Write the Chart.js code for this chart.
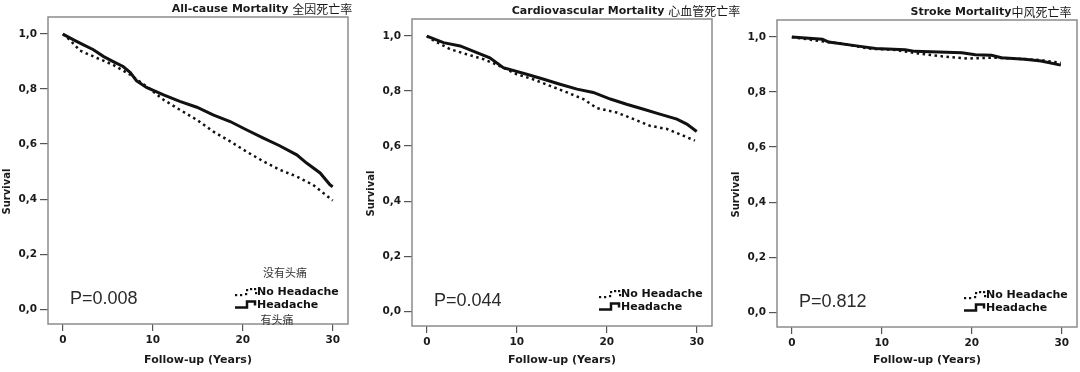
<!DOCTYPE html>
<html>
<head>
<meta charset="utf-8">
<script src="https://cdn.jsdelivr.net/npm/chart.js@4/dist/chart.umd.min.js"></script>
<style>
  body { margin: 0; background: #fff; }
  #wrap { position: relative; width: 1080px; height: 372px; }
  canvas { position: absolute; left: 0; top: 0; }
</style>
</head>
<body>
<div id="wrap">
  <canvas id="allcause" width="1080" height="372"></canvas>
  <canvas id="cardio" width="1080" height="372"></canvas>
  <canvas id="stroke" width="1080" height="372"></canvas>
</div>
<script>
// tick labels
var xTicks = [0, 10, 20, 30];
var yTicks = [0, 0.2, 0.4, 0.6, 0.8, 1.0];

// All-cause mortality (years, survival)
var allHeadT = [0, 1.2, 2.3, 3.4, 4.5, 5.6, 6.7, 7.5, 8.2, 9.3, 11.2, 13.0, 14.9, 16.7, 18.6, 20.4, 22.3, 24.1, 26.0, 27.1, 28.6, 29.7, 30];
var allHeadS = [1.0, 0.979, 0.961, 0.943, 0.919, 0.900, 0.882, 0.860, 0.830, 0.806, 0.779, 0.755, 0.734, 0.706, 0.682, 0.652, 0.622, 0.594, 0.561, 0.531, 0.495, 0.452, 0.445];
var allNoHeadT = [0, 0.8, 1.9, 3.8, 5.6, 7.5, 9.3, 11.2, 13.0, 14.9, 16.7, 18.6, 20.4, 22.3, 24.1, 26.0, 27.8, 30];
var allNoHeadS = [1.0, 0.978, 0.940, 0.913, 0.888, 0.852, 0.810, 0.761, 0.725, 0.688, 0.646, 0.610, 0.573, 0.537, 0.507, 0.482, 0.452, 0.395];

// Cardiovascular mortality
var cvHeadT = [0, 1.85, 3.7, 5.56, 7.0, 8.5, 11.1, 13.0, 14.8, 16.7, 18.5, 20.4, 22.2, 24.1, 25.9, 27.8, 28.9, 30];
var cvHeadS = [1.0, 0.976, 0.964, 0.940, 0.921, 0.885, 0.861, 0.843, 0.825, 0.807, 0.795, 0.771, 0.752, 0.734, 0.716, 0.698, 0.680, 0.653];
var cvNoHeadT = [0, 0.4, 2.6, 4.4, 6.3, 8.1, 10, 11.8, 13.7, 15.6, 17.4, 18.9, 21.1, 23, 24.8, 26.7, 28.5, 29.8];
var cvNoHeadS = [1.0, 0.99, 0.952, 0.934, 0.916, 0.891, 0.861, 0.843, 0.819, 0.795, 0.771, 0.738, 0.722, 0.698, 0.674, 0.662, 0.638, 0.620];

// Stroke mortality
var stHeadT = [0, 3.4, 4.1, 7.4, 9.3, 12.6, 13.7, 18.9, 20.4, 22.2, 23.3, 25.9, 27.7, 29.9];
var stHeadS = [1.0, 0.992, 0.982, 0.967, 0.958, 0.954, 0.948, 0.943, 0.936, 0.934, 0.925, 0.919, 0.913, 0.898];
var stNoHeadT = [0, 3.0, 5.6, 8.6, 11.2, 14.1, 16.7, 19.6, 22.2, 24.8, 27.7, 29.9];
var stNoHeadS = [1.0, 0.986, 0.976, 0.958, 0.954, 0.940, 0.930, 0.922, 0.925, 0.922, 0.916, 0.906];

var boldFont = 'DejaVu Sans';
var cjkFont = '"Noto Sans CJK SC"';

function pts(t, s) {
    var out = [];
    for (var k = 0; k < t.length; k++) out.push({x: t[k], y: s[k]});
    return out;
}

// frame, titles, P value and legend drawn round the chart area
var panelText = {
    id: 'panelText',
    beforeDatasetsDraw: function(chart) {
        var a = chart.chartArea, ctx = chart.ctx;
        ctx.save();
        ctx.strokeStyle = '#8c8c8c';
        ctx.lineWidth = 1.5;
        ctx.strokeRect(a.left, a.top, a.right - a.left, a.bottom - a.top);
        ctx.restore();
    },
    afterDraw: function(chart, args, o) {
        var a = chart.chartArea, ctx = chart.ctx;
        ctx.save();
        ctx.fillStyle = '#1a1a1a';
        ctx.textBaseline = 'middle';

        // title: latin bold + chinese
        ctx.font = 'bold 11px ' + boldFont;
        var w1 = ctx.measureText(o.title).width;
        ctx.font = '12px ' + cjkFont;
        var w2 = ctx.measureText(o.titleCn).width;
        var tx = (a.left + a.right) / 2 + 64 - (w1 + w2) / 2;
        ctx.font = 'bold 11px ' + boldFont;
        ctx.textAlign = 'left';
        ctx.fillText(o.title, tx, a.top - 8);
        ctx.font = '12px ' + cjkFont;
        ctx.fillText(o.titleCn, tx + w1, a.top - 8);

        // y axis title
        ctx.save();
        ctx.translate(a.left - 41, (a.top + a.bottom) / 2 + 21);
        ctx.rotate(-Math.PI / 2);
        ctx.textAlign = 'center';
        ctx.font = 'bold 10px ' + boldFont;
        ctx.fillText('Survival', 0, 0);
        ctx.restore();

        // P value
        ctx.fillStyle = '#2a2a2a';
        ctx.font = '18px "Liberation Sans"';
        ctx.textAlign = 'left';
        ctx.fillText(o.p, a.left + 22, a.bottom - 25);

        // legend
        var lx = a.left + 187, y1 = a.bottom - 32, y2 = a.bottom - 18.5;
        ctx.fillStyle = '#111';
        var dots = [[0, 3], [5, 3], [10, 2], [11, -2], [15, -3], [19, -3], [20, 1]];
        dots.forEach(function(d) { ctx.fillRect(lx + d[0], y1 + d[1] - 1, 2.2, 2.2); });
        ctx.strokeStyle = '#111';
        ctx.lineWidth = 2.5;
        ctx.beginPath();
        ctx.moveTo(lx, y2 + 2);
        ctx.lineTo(lx + 12, y2 + 2);
        ctx.lineTo(lx + 12, y2 - 4);
        ctx.lineTo(lx + 20, y2 - 4);
        ctx.lineTo(lx + 20, y2);
        ctx.stroke();
        ctx.font = 'bold 11px ' + boldFont;
        ctx.fillText('No Headache', a.left + 209, y1);
        ctx.fillText('Headache', a.left + 209, y2);

        if (o.cnTop) {
            ctx.fillStyle = '#333';
            ctx.font = '11px ' + cjkFont;
            ctx.textAlign = 'center';
            ctx.fillText(o.cnTop, a.left + 237, a.bottom - 51);
            ctx.fillText(o.cnBottom, a.left + 229, a.bottom - 4);
        }
        ctx.restore();
    }
};

function makePanel(id, headT, headS, noT, noS, pad, xHeight, txt) {
    var ctx = document.getElementById(id).getContext('2d');
    return new Chart(ctx, {
        type: 'line',
        data: {
            datasets: [{
                label: 'Headache',
                data: pts(headT, headS),
                borderColor: '#111',
                borderWidth: 3,
                fill: false
            }, {
                label: 'No Headache',
                data: pts(noT, noS),
                borderColor: '#111',
                borderWidth: 2.5,
                borderDash: [2.5, 3.5],
                fill: false
            }]
        },
        options: {
            responsive: false,
            animation: false,
            layout: { padding: pad },
            elements: {
                point: { radius: 0 },
                line: { tension: 0 }
            },
            plugins: {
                legend: { display: false },
                tooltip: { enabled: false },
                panelText: txt
            },
            scales: {
                x: {
                    type: 'linear',
                    min: -1.65,
                    max: 31.7,
                    afterBuildTicks: function(s) { s.ticks = xTicks.map(function(v) { return {value: v}; }); },
                    afterFit: function(s) { s.height = xHeight; },
                    grid: { drawOnChartArea: false, tickLength: 7, color: '#555', lineWidth: 1.2 },
                    border: { display: false },
                    ticks: { color: '#1a1a1a', padding: 3, font: { family: boldFont, weight: 'bold', size: 10.5 } },
                    title: {
                        display: true,
                        text: 'Follow-up (Years)',
                        color: '#1a1a1a',
                        padding: { top: 0, bottom: 5 },
                        font: { family: boldFont, weight: 'bold', size: 11 }
                    }
                },
                y: {
                    min: -0.054,
                    max: 1.062,
                    afterBuildTicks: function(s) { s.ticks = yTicks.map(function(v) { return {value: v}; }); },
                    afterFit: function(s) { s.width = 48; },
                    grid: { drawOnChartArea: false, tickLength: 8, color: '#555', lineWidth: 1.2 },
                    border: { display: false },
                    ticks: {
                        color: '#1a1a1a',
                        padding: 3,
                        font: { family: boldFont, weight: 'bold', size: 10.5 },
                        callback: function(v) { return v.toFixed(1).replace('.', ','); }
                    }
                }
            }
        },
        plugins: [panelText]
    });
}

makePanel('allcause', allHeadT, allHeadS, allNoHeadT, allNoHeadS,
    {left: 0, top: 17, right: 732, bottom: 0}, 48,
    {title: 'All-cause Mortality ', titleCn: '全因死亡率', p: 'P=0.008', cnTop: '没有头痛', cnBottom: '有头痛'});
makePanel('cardio', cvHeadT, cvHeadS, cvNoHeadT, cvNoHeadS,
    {left: 364, top: 19, right: 368, bottom: 0}, 46,
    {title: 'Cardiovascular Mortality ', titleCn: '心血管死亡率', p: 'P=0.044'});
makePanel('stroke', stHeadT, stHeadS, stNoHeadT, stNoHeadS,
    {left: 729, top: 20, right: 3, bottom: 0}, 45,
    {title: 'Stroke Mortality', titleCn: '中风死亡率', p: 'P=0.812'});
</script>
</body>
</html>
